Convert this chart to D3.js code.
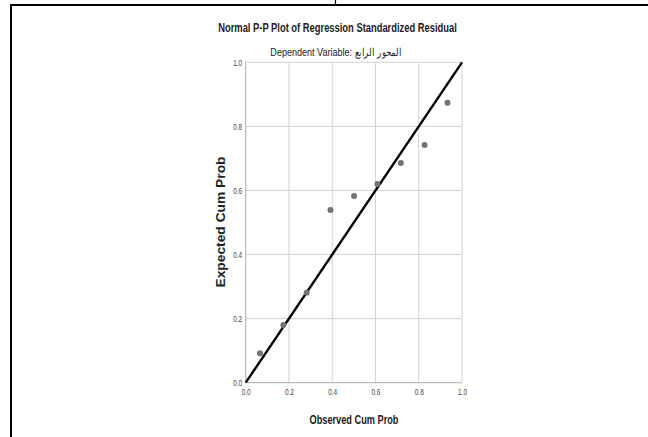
<!DOCTYPE html>
<html>
<head>
<meta charset="utf-8">
<script src="https://cdn.jsdelivr.net/npm/d3@7"></script>
<style>
  html, body { margin: 0; padding: 0; background: #fff; }
  svg { display: block; }
  .narrow { font-family: "Liberation Sans", Arial, sans-serif; }
</style>
</head>
<body>
<div id="chart"></div>
<script>
const observed = [0.066, 0.174, 0.282, 0.392, 0.501, 0.609, 0.717, 0.827, 0.933];
const expected = [0.092, 0.180, 0.281, 0.539, 0.583, 0.620, 0.686, 0.742, 0.874];
const tickValues = [0, 0.2, 0.4, 0.6, 0.8, 1.0];
const title = 'Normal P-P Plot of Regression Standardized Residual';
const subtitle = 'Dependent Variable: المحور الرابع';
const xLabel = 'Observed Cum Prob';
const yLabel = 'Expected Cum Prob';

const width = 648, height = 437;
const plot = { left: 245.7, top: 62.3, right: 462, bottom: 382.7 };

const svg = d3.select('#chart').append('svg')
  .attr('width', width)
  .attr('height', height);

// outer frame
svg.append('line').attr('x1', 10).attr('x2', width).attr('y1', 5).attr('y2', 5)
  .attr('stroke', '#000').attr('stroke-width', 2);
svg.append('line').attr('x1', 11).attr('x2', 11).attr('y1', 4).attr('y2', height)
  .attr('stroke', '#000').attr('stroke-width', 2);
svg.append('line').attr('x1', 335.5).attr('x2', 335.5).attr('y1', 0).attr('y2', 5)
  .attr('stroke', '#000').attr('stroke-width', 1.2);

const x = d3.scaleLinear().domain([0, 1]).range([plot.left, plot.right]);
const y = d3.scaleLinear().domain([0, 1]).range([plot.bottom, plot.top]);

// grid
const grid = svg.append('g');
grid.selectAll('.gx').data(tickValues).enter().append('line')
  .attr('x1', d => x(d)).attr('x2', d => x(d))
  .attr('y1', plot.top).attr('y2', plot.bottom)
  .attr('stroke', d => d === 0 ? '#aaa' : '#d2d2d2').attr('stroke-width', 1);
grid.selectAll('.gy').data(tickValues).enter().append('line')
  .attr('x1', plot.left).attr('x2', plot.right)
  .attr('y1', d => y(d)).attr('y2', d => y(d))
  .attr('stroke', d => d === 0 ? '#aaa' : '#d2d2d2').attr('stroke-width', 1);

// axes (labels only, lines drawn by grid)
const xAxis = svg.append('g')
  .attr('transform', `translate(0,${plot.bottom})`)
  .call(d3.axisBottom(x).tickValues(tickValues).tickFormat(d3.format('.1f')).tickSize(0).tickPadding(6));
const yAxis = svg.append('g')
  .attr('transform', `translate(${plot.left},0)`)
  .call(d3.axisLeft(y).tickValues(tickValues).tickFormat(d3.format('.1f')).tickSize(0).tickPadding(3.5));
[xAxis, yAxis].forEach(a => {
  a.select('.domain').remove();
  a.selectAll('text')
    .attr('class', 'narrow')
    .style('font-size', '9.5px')
    .attr('textLength', 9)
    .attr('lengthAdjust', 'spacingAndGlyphs')
    .attr('fill', '#444');
});

// reference line
svg.append('line')
  .attr('x1', x(0)).attr('y1', y(0))
  .attr('x2', x(1)).attr('y2', y(1))
  .attr('stroke', '#000').attr('stroke-width', 2.4);

// points
const pts = observed.map((o, i) => ({ o, e: expected[i] }));
svg.selectAll('.pt').data(pts).enter().append('circle')
  .attr('cx', d => x(d.o)).attr('cy', d => y(d.e))
  .attr('r', 3)
  .attr('fill', '#737373');

// squeeze a text horizontally to a target width (keeps arabic joining intact)
function narrowText(cx, cy, str, size, weight, target) {
  const g = svg.append('g');
  const t = g.append('text').attr('class', 'narrow')
    .attr('text-anchor', 'middle')
    .style('font-size', size + 'px').style('font-weight', weight)
    .attr('fill', '#222')
    .text(str);
  const k = target / t.node().getComputedTextLength();
  g.attr('transform', `translate(${cx},${cy}) scale(${k},1)`);
  return g;
}

narrowText(337.5, 32, title, 12.5, 'bold', 239);
narrowText(336, 56, subtitle, 11.5, 'normal', 134);
narrowText(354, 423.5, xLabel, 12.5, 'bold', 89);

svg.append('text')
  .attr('transform', `translate(225,222) rotate(-90)`)
  .attr('text-anchor', 'middle')
  .attr('textLength', 131).attr('lengthAdjust', 'spacingAndGlyphs')
  .style('font-family', '"Liberation Sans", Arial, sans-serif')
  .style('font-size', '12.5px').style('font-weight', 'bold')
  .attr('fill', '#222')
  .text(yLabel);
</script>
</body>
</html>
